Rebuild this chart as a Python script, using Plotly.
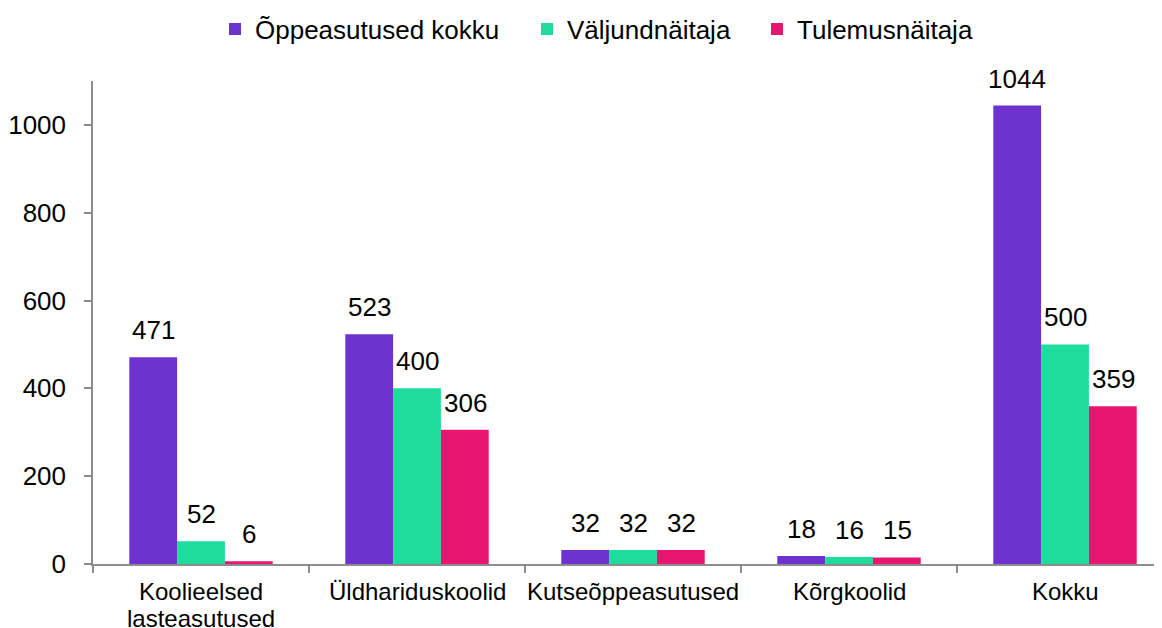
import plotly.graph_objects as go

categories = ["Koolieelsed<br>lasteasutused", "Üldhariduskoolid", "Kutseõppeasutused", "Kõrgkoolid", "Kokku"]
series_names = ["Õppeasutused kokku", "Väljundnäitaja", "Tulemusnäitaja"]
oppeasutused = [471, 523, 32, 18, 1044]
valjund = [52, 400, 32, 16, 500]
tulemus = [6, 306, 32, 15, 359]
colors = ["#6E32CF", "#1FDC9C", "#E8166F"]

FONT = "Liberation Sans, Arial, sans-serif"
FS = 26
FS_X = 24
W, H = 1154, 620

fig = go.Figure()
all_vals = [oppeasutused, valjund, tulemus]
legend_ids = ["legend", "legend2", "legend3"]
legend_px = [207, 519, 749]
for name, vals, col, lid in zip(series_names, all_vals, colors, legend_ids):
    fig.add_trace(go.Bar(x=categories, y=vals, name=name, legend=lid,
                         marker=dict(color=col, line=dict(width=0))))

bar_px = 48
for i, vals in enumerate(all_vals):
    for c, v in zip(categories, vals):
        fig.add_annotation(x=c, y=v, text=str(v), showarrow=False, xref="x", yref="y",
                           yanchor="bottom", xshift=(i - 1) * bar_px, yshift=10,
                           font=dict(family=FONT, size=FS, color="#000"))

# category labels (split lines, tighter line spacing like the reference)
for c in categories:
    for j, line in enumerate(c.split("<br>")):
        fig.add_annotation(x=c, y=0, text=line, showarrow=False, xref="x", yref="y",
                           yanchor="middle", yshift=-27.5 - 27 * j,
                           font=dict(family=FONT, size=FS_X, color="#000"))

leg_common = dict(orientation="h", xanchor="left", y=1 - 21 / H, yanchor="middle",
                  xref="container", yref="container", font=dict(family=FONT, size=FS),
                  itemwidth=30, bgcolor="rgba(0,0,0,0)")
fig.update_layout(
    width=W, height=H,
    margin=dict(l=85, r=0, t=73, b=64),
    paper_bgcolor="white", plot_bgcolor="white",
    barmode="group", bargap=0.336, bargroupgap=0,
    font=dict(family=FONT, size=FS, color="#000"),
    legend=dict(x=legend_px[0] / W, **leg_common),
    legend2=dict(x=legend_px[1] / W, **leg_common),
    legend3=dict(x=legend_px[2] / W, **leg_common),
    showlegend=True,
)
fig.update_xaxes(type="category", range=[-0.5, 4.5 - 11 / 216], showline=True, linecolor="#8C8C8C",
                 linewidth=1.5, ticks="outside", tickson="boundaries", ticklen=7,
                 tickcolor="#8C8C8C", tickwidth=1.5, showgrid=False, showticklabels=False,
                 automargin=False)
fig.update_yaxes(range=[0, 1100], tickvals=[0, 200, 400, 600, 800, 1000], showline=True,
                 linecolor="#8C8C8C", linewidth=1.5, ticks="outside", ticklen=7,
                 tickcolor="#8C8C8C", tickwidth=1.5, showgrid=False, zeroline=False,
                 ticklabelstandoff=13, automargin=False, tickfont=dict(family=FONT, size=FS))

fig.write_html("out.html")
